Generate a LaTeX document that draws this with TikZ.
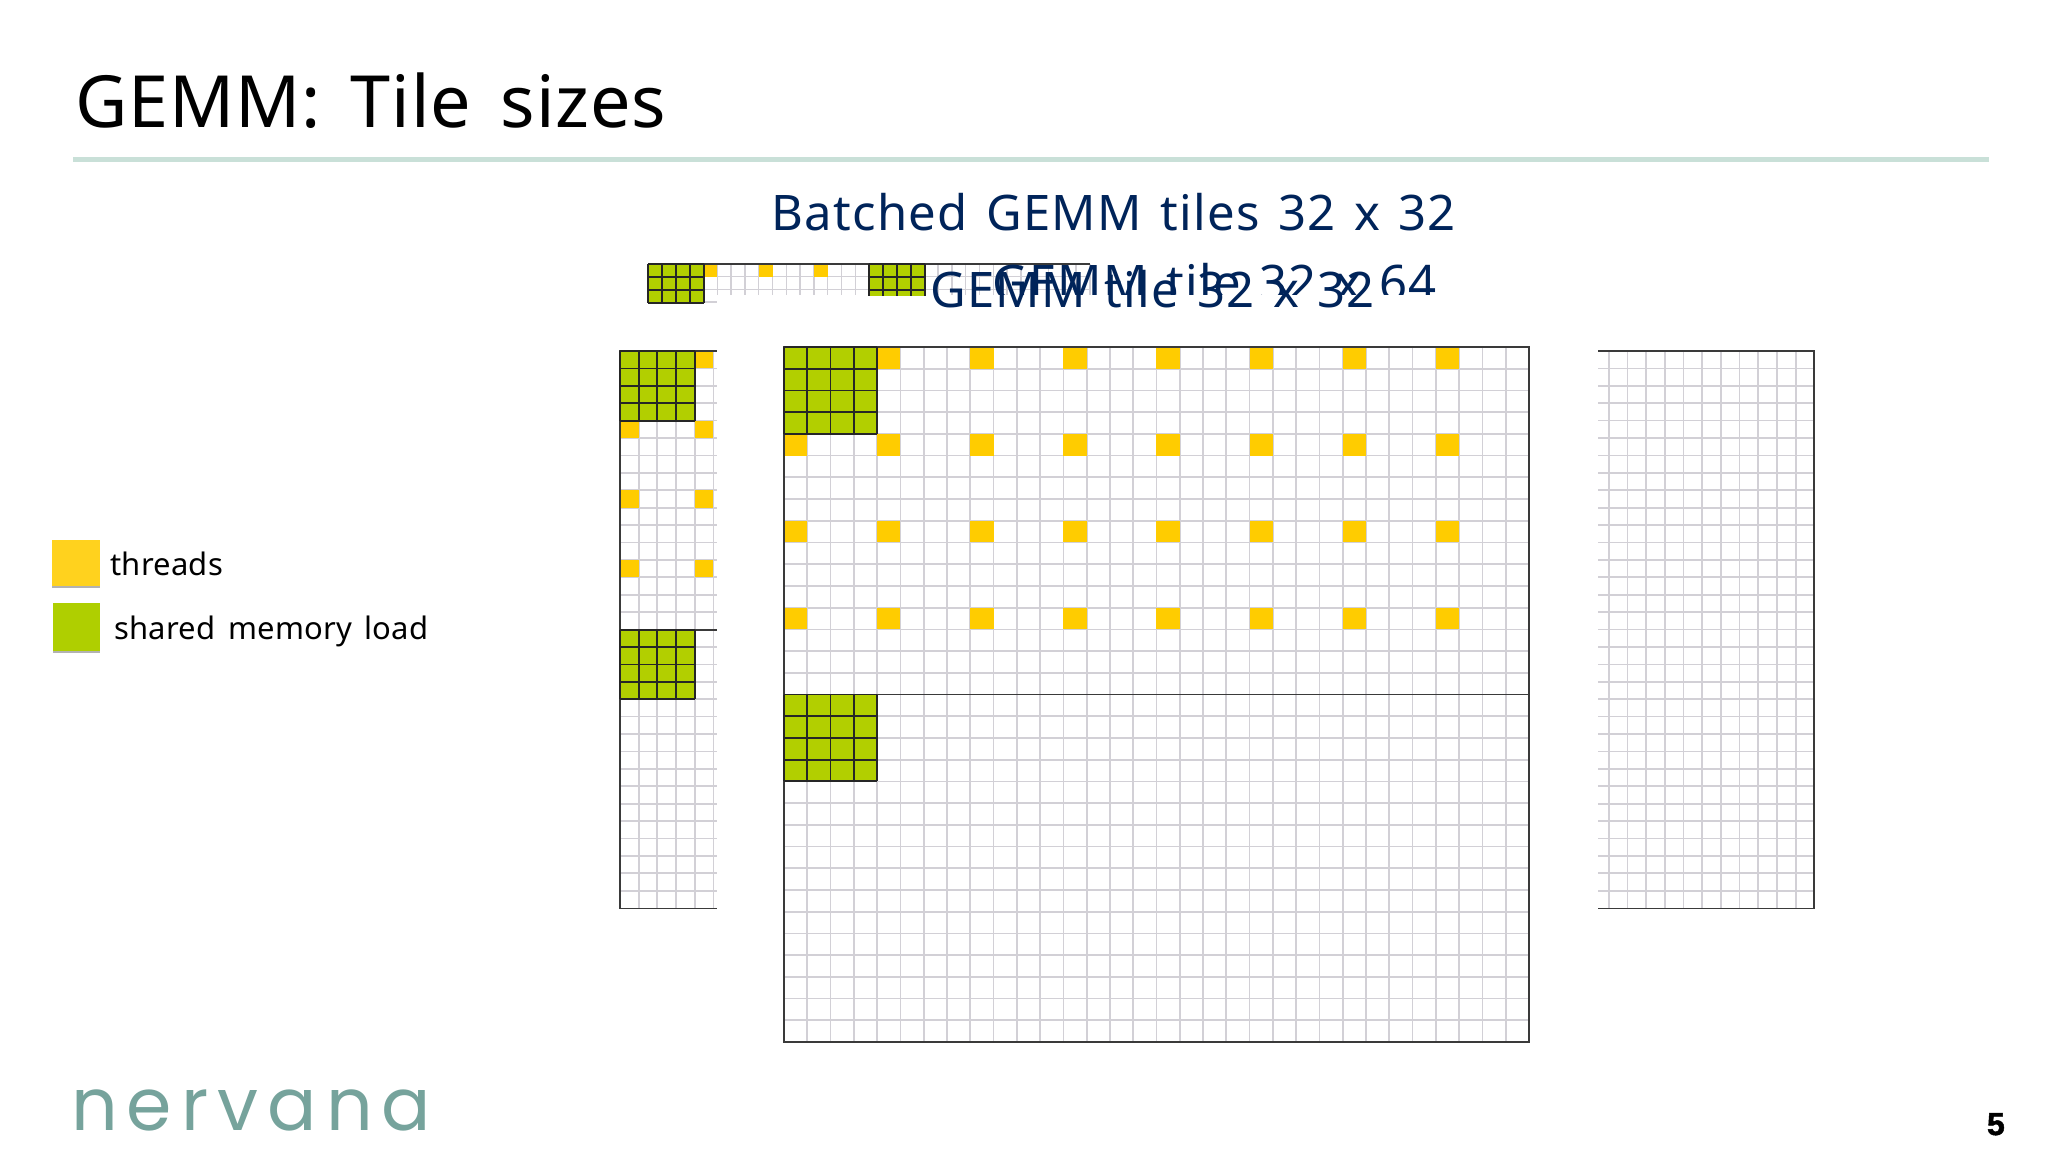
\documentclass[tikz,border=0pt]{standalone}
\usepackage{fontspec}
\setmainfont{Noto Sans}
\newfontfamily\titlefont[LetterSpace=1.3,WordSpace=1.5]{Noto Sans}
\newfontfamily\subfont[LetterSpace=2.8,WordSpace=1.3]{Noto Sans}
\newfontfamily\legendfont[LetterSpace=0.7,WordSpace=1.5]{Noto Sans}
\newfontfamily\logofont[LetterSpace=12.5]{Poppins}
\newfontfamily\pagefont[BoldFeatures={FakeBold=1.5}]{Liberation Sans}
\definecolor{inkblue}{HTML}{00245A}
\definecolor{rulegreen}{HTML}{C9E0D8}
\definecolor{cellgrey}{HTML}{D2D0D6}
\definecolor{darkline}{HTML}{3A3A3A}
\definecolor{threadyellow}{HTML}{FFCC00}
\definecolor{loadgreen}{HTML}{B2CF00}
\definecolor{legendyellow}{HTML}{FFD21E}
\definecolor{legendgreen}{HTML}{AFCF00}
\definecolor{logoteal}{HTML}{76A39C}
\tikzset{
  x=1pt,y=-1pt,
  gridline/.style={draw=cellgrey,line width=1.7pt},
  frameline/.style={draw=darkline,line width=1.8pt},
  blackline/.style={draw=black!85,line width=1.8pt},
  thread/.style={fill=threadyellow,draw=none},
  lbl/.style={anchor=base west,inner sep=0pt,outer sep=0pt},
}
% green block: x y cellw cellh cols rows
\newcommand\greenblock[6]{%
  \fill[loadgreen] (#1,#2) rectangle ({#1+#5*#3},{#2+#6*#4});
  \foreach \k in {0,...,#5} \draw[blackline] ({#1+\k*#3},#2) -- ({#1+\k*#3},{#2+#6*#4});
  \foreach \k in {0,...,#6} \draw[blackline] (#1,{#2+\k*#4}) -- ({#1+#5*#3},{#2+\k*#4});
}
\begin{document}
\begin{tikzpicture}
\useasboundingbox (0,0) rectangle (2048,1152);
\fill[white] (0,0) rectangle (2048,1152);

% title
\node[lbl] (title) at (75,127.5) {\fontsize{72}{72}\selectfont\titlefont GEMM: Tile sizes};
\draw[rulegreen,line width=4.5pt] (73,159.5) -- (1989,159.5);

% headings
\node[lbl] (batched) at (771,230) {\fontsize{49}{49}\selectfont\subfont\color{inkblue}Batched GEMM tiles 32 x 32};

% top strip (batched)
\foreach \i in {1,...,32} \draw[gridline,line width=1.4pt] ({648.3+\i*13.8},264) -- ({648.3+\i*13.8},295);
\foreach \r in {1,2} \draw[gridline,line width=1.4pt] (648.3,{263.5+\r*13}) -- (1090,{263.5+\r*13});
\draw[gridline,line width=1.4pt] (704,302) -- (717,302);
\foreach \c in {4,8,12} \fill[thread] ({648.3+\c*13.8},264) rectangle ({648.3+\c*13.8+13.8},276.5);
\draw[frameline] (648.3,263.7) -- (1090,263.7);
\greenblock{648.3}{263.7}{14.0}{13.1}{4}{3}
\begin{scope}
  \clip (860,255) rectangle (935,295);
  \greenblock{869}{263.7}{14.0}{13.1}{4}{3}
\end{scope}

\begin{scope}
  \clip (980,240) rectangle (1460,294.5);
  \node[lbl] (tile64) at (992,300) {\fontsize{49}{49}\selectfont\subfont\color{inkblue}GEMM tile 32 x 64};
\end{scope}
\node[lbl] (tile32) at (930,307) {\fontsize{49}{49}\selectfont\subfont\color{inkblue}GEMM tile 32 x 32};

% left grid (5 columns shown)
\foreach \i in {1,...,5} \draw[gridline] ({620+\i*18.67},351) -- ({620+\i*18.67},908.5);
\foreach \r in {1,...,31} \draw[gridline] (620,{351+\r*17.41}) -- (716.5,{351+\r*17.41});
\fill[thread] ({620+4*18.67},351) rectangle ({620+5*18.67},{351+17.41});
\foreach \r in {4,8,12} \foreach \c in {0,4}
  \fill[thread] ({620+\c*18.67},{351+\r*17.41}) rectangle ({620+\c*18.67+18.67},{351+\r*17.41+17.41});
\draw[frameline] (716.5,351) -- (620,351) -- (620,908.5) -- (716.5,908.5);
\draw[frameline] (620,629.6) -- (716.5,629.6);
\greenblock{620}{351}{18.67}{17.41}{4}{4}
\greenblock{620}{629.6}{18.67}{17.41}{4}{4}

% main grid
\foreach \i in {1,...,31} \draw[gridline] ({784+\i*23.28},347) -- ({784+\i*23.28},1042);
\foreach \r in {1,...,31} \draw[gridline] (784,{347+\r*21.72}) -- (1529,{347+\r*21.72});
\foreach \c in {4,8,...,28}
  \fill[thread] ({784+\c*23.28},347) rectangle ({784+\c*23.28+23.28},{347+21.72});
\foreach \r in {4,8,12} \foreach \c in {0,4,...,28}
  \fill[thread] ({784+\c*23.28},{347+\r*21.72}) rectangle ({784+\c*23.28+23.28},{347+\r*21.72+21.72});
\draw[frameline] (784,347) rectangle (1529,1042);
\draw[frameline] (784,694.5) -- (1529,694.5);
\greenblock{784}{347}{23.28}{21.72}{4}{4}
\greenblock{784}{694.5}{23.28}{21.72}{4}{4}

% right grid
\foreach \i in {1,...,11} \draw[gridline] ({1814.3-\i*18.67},351) -- ({1814.3-\i*18.67},908.5);
\foreach \r in {1,...,31} \draw[gridline] (1598,{351+\r*17.41}) -- (1814.3,{351+\r*17.41});
\draw[frameline] (1598,351) -- (1814.3,351) -- (1814.3,908.5) -- (1598,908.5);

% legend
\fill[black!30] (52,542) rectangle (100,588);
\fill[black!30] (52.5,605) rectangle (100,653);
\fill[legendyellow] (52,540) rectangle (100,586);
\fill[legendgreen] (52.5,603) rectangle (100,651);
\node[lbl] (threads) at (110.5,575) {\fontsize{31}{31}\selectfont\legendfont threads};
\node[lbl] (shared) at (114.5,639) {\fontsize{31}{31}\selectfont\legendfont shared memory load};

% logo
\node[lbl] (logo) at (71,1130.5) {\fontsize{73}{73}\selectfont\logofont\color{logoteal}nervana};

% page number
\node[lbl] (pagenum) at (1987,1135) {\fontsize{32}{32}\selectfont\pagefont\bfseries 5};
\end{tikzpicture}
\end{document}
